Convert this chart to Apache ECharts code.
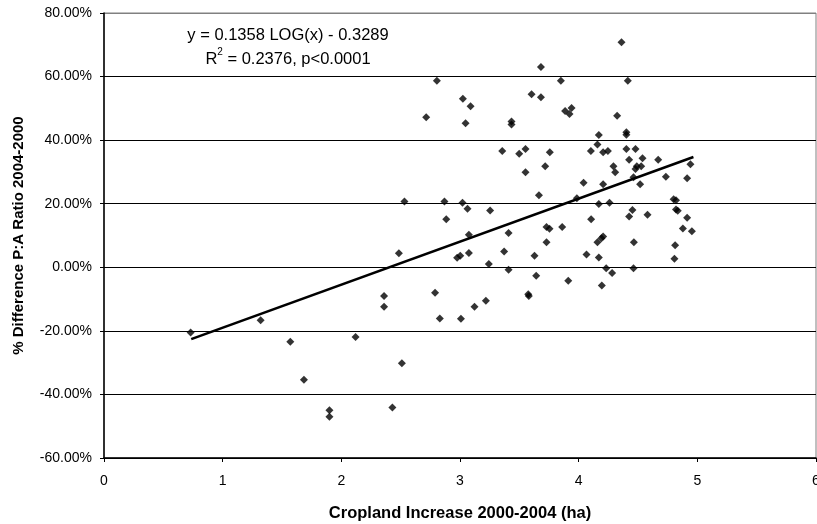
<!DOCTYPE html>
<html>
<head>
<meta charset="utf-8">
<script src="https://cdn.jsdelivr.net/npm/echarts@6/dist/echarts.min.js"></script>
<style>
  html, body { margin: 0; padding: 0; background: #fff; }
  #chart { width: 817px; height: 524px; }
</style>
</head>
<body>
<div id="chart"></div>
<script>
// cropland increase (x) and % difference in P:A ratio (y, percent)
const cropX = [
  0.73, 1.32, 1.57, 1.685, 1.90, 1.90, 2.12, 2.36, 2.36, 2.485,
  2.43, 2.51, 2.79, 2.83, 2.805, 2.715, 2.532, 2.869, 2.884, 3.024,
  3.089, 3.047, 4.361, 3.682, 3.850, 4.414, 3.603, 3.682, 3.434, 3.434,
  3.886, 3.940, 3.923, 4.324, 4.402, 4.402, 4.170, 4.158, 4.103, 4.206,
  4.246, 4.402, 4.479, 4.425, 4.538, 4.670, 4.490, 4.479, 4.527, 4.942,
  4.914, 4.735, 4.518, 3.356, 3.499, 3.552, 3.757, 3.718, 4.293, 4.308,
  3.552, 4.041, 4.206, 4.462, 3.665, 3.985, 3.021, 3.063, 3.254, 4.170,
  4.26, 4.80, 4.82, 4.82, 4.835, 4.453, 4.425, 4.580, 4.105, 4.914,
  4.878, 4.954, 3.409, 3.729, 3.754, 3.861, 3.075, 4.206, 4.192, 4.158,
  3.729, 4.465, 4.813, 3.372, 3.075, 2.976, 3.002, 3.628, 4.066, 4.170,
  4.807, 3.243, 3.409, 3.642, 3.912, 4.232, 4.282, 4.195, 4.462, 3.575,
  3.580, 3.218, 3.122, 3.008
];
const ratioDiff = [
  -20.5, -16.7, -23.4, -35.4, -45.0, -47.0, -21.9, -9.0, -12.4, 4.4,
  -44.1, -30.2, -8.0, -16.1, 58.7, 47.2, 20.7, 20.7, 15.1, 53.0,
  50.7, 45.3, 70.8, 63.0, 58.7, 58.7, 54.4, 53.5, 45.9, 44.9,
  49.2, 50.1, 48.2, 47.7, 42.5, 41.7, 41.6, 38.6, 36.6, 36.2,
  36.6, 37.2, 37.2, 33.8, 34.3, 33.8, 31.8, 30.9, 31.8, 32.4,
  28.0, 28.5, 26.1, 36.6, 35.7, 37.2, 36.2, 31.8, 31.8, 29.9,
  29.9, 26.6, 26.1, 28.3, 22.7, 21.7, 20.3, 18.4, 17.9, 19.9,
  20.3, 21.4, 21.1, 18.2, 17.8, 18.0, 16.0, 16.5, 15.1, 15.6,
  12.2, 11.3, 10.8, 12.7, 12.1, 12.7, 10.2, 9.7, 9.1, 7.9,
  7.9, 7.9, 6.9, 5.0, 4.5, 3.0, 3.6, 3.6, 4.0, 3.1,
  2.7, 1.0, -0.8, -2.7, -4.2, -0.3, -1.8, -5.7, -0.3, -8.5,
  -9.0, -10.5, -12.4, -16.2
];
// fitted line end points
const trendLine = [[0.735, -22.6], [4.967, 34.7]];

const points = cropX.map((x, i) => [x, ratioDiff[i]]);

const chart = echarts.init(document.getElementById('chart'));
const font = 'Liberation Sans, Arial, sans-serif';

chart.setOption({
  animation: false,
  grid: {
    left: 104, right: 1, top: 13, bottom: 66,
    outerBoundsMode: 'none', containLabel: false,
    show: true, borderColor: '#808080', borderWidth: 1
  },
  xAxis: {
    type: 'value', min: 0, max: 6, interval: 1,
    name: 'Cropland Increase 2000-2004 (ha)',
    nameLocation: 'middle', nameGap: 47,
    nameTextStyle: { fontFamily: font, fontSize: 16.5, fontWeight: 'bold', color: '#000' },
    axisLine: { onZero: false, lineStyle: { color: '#000', width: 1.5 } },
    axisTick: { show: true, length: 4, lineStyle: { color: '#000' } },
    axisLabel: { fontFamily: font, fontSize: 14, color: '#000', margin: 16 },
    splitLine: { show: false }
  },
  yAxis: {
    type: 'value', min: -60, max: 80, interval: 20,
    name: '% Difference P:A Ratio 2004-2000',
    nameLocation: 'middle', nameGap: 78,
    nameTextStyle: { fontFamily: font, fontSize: 15, fontWeight: 'bold', color: '#000' },
    axisLine: { show: true, lineStyle: { color: '#000', width: 1.5 } },
    axisTick: { show: true, length: 4, lineStyle: { color: '#000' } },
    axisLabel: {
      fontFamily: font, fontSize: 14, color: '#000', margin: 12,
      formatter: v => v.toFixed(2) + '%'
    },
    splitLine: {
      lineStyle: {
        color: ['#000', '#000', '#000', '#000', '#000', '#000', '#000', '#808080'],
        width: 1
      }
    }
  },
  graphic: [{
    type: 'text', x: 288, y: 23,
    style: {
      text: '{r|y = 0.1358 LOG(x) - 0.3289}\n{r|R}{sup|2}{r| = 0.2376, p<0.0001}',
      font: '16.5px ' + font, fill: '#000', align: 'center', lineHeight: 24,
      rich: {
        r: { fontSize: 16.5, fontFamily: font, lineHeight: 24 },
        sup: { fontSize: 10, fontFamily: font, verticalAlign: 'top', lineHeight: 14 }
      }
    }
  }],
  series: [{
    type: 'scatter',
    data: points,
    symbol: 'diamond',
    symbolSize: 8,
    itemStyle: { color: '#000' }
  }, {
    type: 'line',
    data: trendLine,
    symbol: 'none',
    lineStyle: { color: '#000', width: 2.6 },
    z: 3
  }]
});
</script>
</body>
</html>
